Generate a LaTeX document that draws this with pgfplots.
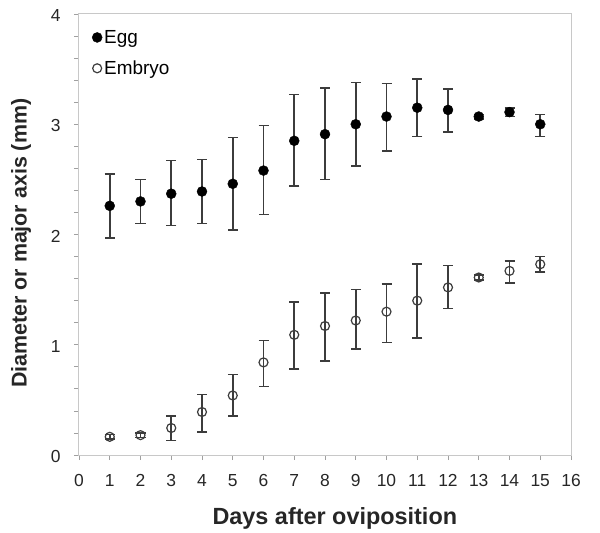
\documentclass[border=0pt]{standalone}
\usepackage{fontspec}
\setmainfont{Liberation Sans}
\usepackage{pgfplots}
\pgfplotsset{compat=1.18}
\usetikzlibrary{calc}
\definecolor{framegray}{HTML}{C8C8C8}
\definecolor{bargray}{HTML}{3C3C3C}
\begin{document}
\begin{tikzpicture}
\begin{axis}[
    scale only axis,
    width=492bp, height=441bp,
    xmin=0, xmax=16, ymin=0, ymax=4,
    xtick={0,1,...,16}, ytick={0,1,2,3,4},
    minor y tick num=4,
    tick align=outside, tick pos=left,
    major tick length=5bp, minor tick length=5bp,
    axis line style={framegray, line width=1bp},
    tick style={framegray!80!black, line width=0.8bp},
    /pgf/number format/assume math mode=true,
    tick label style={font=\fontsize{17.5}{17.5}\selectfont, text=black!85},
    xticklabel style={yshift=-11bp},
    yticklabel style={xshift=-10bp, yshift=-1.5bp},
    xlabel={\textbf{Days after oviposition}},
    ylabel={\textbf{Diameter or major axis (mm)}},
    xlabel style={font=\fontsize{23.5}{23.5}\selectfont, text=black!85,
        at={($(rel axis cs:0.52,0)+(0,-69bp)$)}, anchor=base},
    ylabel style={font=\fontsize{21.5}{21.5}\selectfont, text=black!85,
        at={($(rel axis cs:0,0.48)+(-58bp,0)$)}, anchor=center},
    legend style={at={(rel axis cs:0,1)}, anchor=north west, xshift=10bp, yshift=-12bp,
        draw=none, fill=none, font=\fontsize{19}{19}\selectfont, row sep=12bp,
        /tikz/every even column/.append style={column sep=0bp}},
    legend cell align=left,
    legend image code/.code={\draw[#1] plot coordinates {(0bp,0bp)};},
    error bars/error bar style={bargray, line width=1.6bp},
    error bars/error mark options={bargray, rotate=90, mark size=5bp, line width=1.6bp},
]
\addplot[only marks, mark=*, mark size=5bp, draw=black, fill=black,
    error bars/.cd, y dir=both, y explicit] coordinates {
    (1,2.26) +=(0,0.29) -=(0,0.29)
    (2,2.30) +=(0,0.20) -=(0,0.20)
    (3,2.37) +=(0,0.30) -=(0,0.29)
    (4,2.39) +=(0,0.29) -=(0,0.29)
    (5,2.46) +=(0,0.42) -=(0,0.42)
    (6,2.58) +=(0,0.41) -=(0,0.40)
    (7,2.85) +=(0,0.42) -=(0,0.41)
    (8,2.91) +=(0,0.42) -=(0,0.41)
    (9,3.00) +=(0,0.38) -=(0,0.38)
    (10,3.07) +=(0,0.30) -=(0,0.31)
    (11,3.15) +=(0,0.26) -=(0,0.26)
    (12,3.13) +=(0,0.19) -=(0,0.20)
    (13,3.07) +=(0,0.02) -=(0,0.02)
    (14,3.11) +=(0,0.04) -=(0,0.04)
    (15,3.00) +=(0,0.09) -=(0,0.11)
};
\addlegendentry{Egg}
\addplot[only marks, mark=o, mark size=4.5bp, draw=bargray, line width=1.2bp,
    error bars/.cd, y dir=both, y explicit] coordinates {
    (1,0.165) +=(0,0.02) -=(0,0.02)
    (2,0.18) +=(0,0.02) -=(0,0.02)
    (3,0.245) +=(0,0.11) -=(0,0.115)
    (4,0.39) +=(0,0.16) -=(0,0.18)
    (5,0.54) +=(0,0.19) -=(0,0.185)
    (6,0.84) +=(0,0.20) -=(0,0.22)
    (7,1.09) +=(0,0.30) -=(0,0.31)
    (8,1.17) +=(0,0.30) -=(0,0.32)
    (9,1.22) +=(0,0.28) -=(0,0.26)
    (10,1.30) +=(0,0.25) -=(0,0.28)
    (11,1.40) +=(0,0.33) -=(0,0.34)
    (12,1.52) +=(0,0.20) -=(0,0.19)
    (13,1.61) +=(0,0.02) -=(0,0.02)
    (14,1.67) +=(0,0.09) -=(0,0.11)
    (15,1.73) +=(0,0.07) -=(0,0.07)
};
\addlegendentry{Embryo}
\coordinate (ll) at (rel axis cs:0,0);
\coordinate (ur) at (rel axis cs:1,1);
\end{axis}
\path[use as bounding box] ($(ll)+(-79bp,-75bp)$) rectangle ($(ur)+(29bp,14bp)$);
\end{tikzpicture}
\end{document}
